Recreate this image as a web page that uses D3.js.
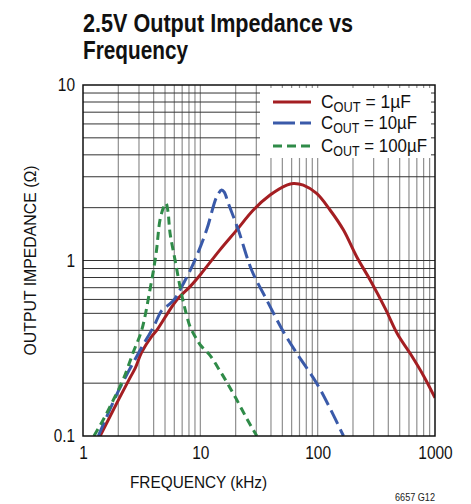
<!DOCTYPE html>
<html>
<head>
<meta charset="utf-8">
<script src="https://cdn.jsdelivr.net/npm/d3@7"></script>
<style>
  html, body { margin: 0; padding: 0; background: #fff; }
  svg { display: block; }
  text { font-family: "Liberation Sans", Arial, Helvetica, sans-serif; }
</style>
</head>
<body>
<script>
// Frequency (kHz) / impedance (ohm) pairs for each output capacitor
const cout1uF = [
  [1.4, 0.1], [2.0, 0.16], [2.52, 0.215], [2.8, 0.245], [3.16, 0.30], [3.85, 0.37],
  [4.25, 0.40], [6.29, 0.596], [8.17, 0.71], [10, 0.83], [14.7, 1.15], [20.4, 1.49],
  [28.3, 1.94], [39.3, 2.36], [54.5, 2.69], [62, 2.75], [75.5, 2.69], [98, 2.41],
  [127.5, 1.94], [166, 1.49], [215, 1.05], [280, 0.774], [376, 0.534], [480, 0.38],
  [613, 0.296], [800, 0.22], [1000, 0.165]
];
const cout10uF = [
  [1.35, 0.1], [2.0, 0.18], [3.0, 0.30], [4.0, 0.42], [4.7, 0.52], [5.4, 0.56],
  [6.0, 0.6], [6.71, 0.68], [8.72, 0.96], [11.3, 1.49], [13.8, 2.31], [15.2, 2.52],
  [16.0, 2.45], [17.3, 2.12], [21.1, 1.49], [27.4, 0.88], [36.8, 0.596], [51, 0.393],
  [66.3, 0.296], [98, 0.2], [130, 0.14], [166, 0.1]
];
const cout100uF = [
  [1.24, 0.1], [1.5, 0.125], [1.81, 0.16], [2.2, 0.21], [2.68, 0.30], [3.16, 0.40],
  [3.72, 0.68], [4.2, 1.1], [4.53, 1.7], [4.85, 2.0], [5.1, 2.12], [5.3, 1.9],
  [5.52, 1.43], [6.1, 1.0], [6.71, 0.71], [7.3, 0.55], [8.17, 0.42], [9.0, 0.37],
  [10, 0.33], [12, 0.29], [14.7, 0.235], [17, 0.2], [20, 0.165], [25, 0.125], [30.3, 0.1]
];

const seriesNames = ["1µF", "10µF", "100µF"];
const xTickValues = [1, 10, 100, 1000];
const xTickLabels = ["1", "10", "100", "1000"];
const yTickValues = [0.1, 1, 10];
const yTickLabels = ["0.1", "1", "10"];

const W = 471, H = 504;
const margin = { left: 83, top: 85, right: 36, bottom: 68 };
const pw = W - margin.left - margin.right;
const ph = H - margin.top - margin.bottom;

const svg = d3.select("body").append("svg").attr("width", W).attr("height", H);

// Condensed look: squeeze a text element to a given width
function squeeze(sel, width) {
  sel.attr("textLength", width).attr("lengthAdjust", "spacingAndGlyphs");
  return sel;
}

// Title (two lines)
squeeze(svg.append("text").attr("x", 83).attr("y", 31.5)
  .attr("font-size", 25.5).attr("font-weight", "bold").attr("fill", "#111")
  .text("2.5V Output Impedance vs"), 270);
squeeze(svg.append("text").attr("x", 83).attr("y", 59)
  .attr("font-size", 25.5).attr("font-weight", "bold").attr("fill", "#111")
  .text("Frequency"), 105);

const g = svg.append("g").attr("transform", `translate(${margin.left},${margin.top})`);

const x = d3.scaleLog().domain([1, 1000]).range([0, pw]);
const y = d3.scaleLog().domain([0.1, 10]).range([ph, 0]);

// Grid: every 1..9 multiple of each decade
const xGrid = [];
for (let d = 1; d < 1000; d *= 10) for (let m = 2; m <= 9; m++) xGrid.push(d * m);
xGrid.push(10, 100);
const yGrid = [];
for (let d = 0.1; d < 9; d *= 10) for (let m = 2; m <= 9; m++) yGrid.push(+(d * m).toPrecision(3));
yGrid.push(1);

g.append("g").selectAll("line").data(xGrid).join("line")
  .attr("x1", d => x(d)).attr("x2", d => x(d))
  .attr("y1", 0).attr("y2", ph)
  .attr("stroke", "#8f8f8f").attr("stroke-width", 1.2);

g.append("g").selectAll("line").data(yGrid).join("line")
  .attr("x1", 0).attr("x2", pw)
  .attr("y1", d => y(d)).attr("y2", d => y(d))
  .attr("stroke", "#333").attr("stroke-width", 1);

// Legend backdrop
g.append("rect").attr("x", 260 - margin.left).attr("y", 88 - margin.top)
  .attr("width", 171).attr("height", 70).attr("fill", "#fff");

// Curves
const colors = ["#a41e22", "#3a5aa9", "#2f8b48"];
const dashes = [null, "15,6", "8,5"];
const data = [cout1uF, cout10uF, cout100uF];

g.append("clipPath").attr("id", "plotClip")
  .append("rect").attr("width", pw).attr("height", ph);

const line = d3.line()
  .x(d => x(d[0])).y(d => y(d[1]))
  .curve(d3.curveCatmullRom.alpha(0.5));

g.append("g").attr("clip-path", "url(#plotClip)")
  .selectAll("path").data(data).join("path")
  .attr("d", d => line(d))
  .attr("fill", "none")
  .attr("stroke", (d, i) => colors[i])
  .attr("stroke-width", 3)
  .attr("stroke-dasharray", (d, i) => dashes[i])
  .attr("stroke-linejoin", "round");

// Frame
g.append("rect").attr("width", pw).attr("height", ph)
  .attr("fill", "none").attr("stroke", "#111").attr("stroke-width", 1.5);

// Tick labels
const digitW = 8.6;
const labelWidth = s => s.replace(/\./g, "").length * digitW + (s.includes(".") ? 4 : 0);

const xAxis = d3.axisBottom(x).tickValues(xTickValues)
  .tickFormat((d, i) => xTickLabels[i]).tickSize(0).tickPadding(10);
const xa = g.append("g").attr("transform", `translate(0,${ph})`).call(xAxis);
xa.select(".domain").remove();
xa.selectAll("text").attr("font-size", 18).attr("fill", "#111")
  .style("font-family", "'Liberation Sans', Arial, sans-serif")
  .each(function (d, i) { squeeze(d3.select(this), labelWidth(xTickLabels[i])); });

const yAxis = d3.axisLeft(y).tickValues(yTickValues)
  .tickFormat((d, i) => yTickLabels[i]).tickSize(0).tickPadding(8);
const ya = g.append("g").call(yAxis);
ya.select(".domain").remove();
ya.selectAll("text").attr("font-size", 18).attr("fill", "#111")
  .style("font-family", "'Liberation Sans', Arial, sans-serif")
  .each(function (d, i) { squeeze(d3.select(this), labelWidth(yTickLabels[i])); });

// Axis titles
squeeze(svg.append("text")
  .attr("x", 198.5).attr("y", 488)
  .attr("text-anchor", "middle").attr("font-size", 17).attr("fill", "#111")
  .text("FREQUENCY (kHz)"), 137);

squeeze(svg.append("text")
  .attr("transform", `translate(36,${margin.top + ph / 2}) rotate(-90)`)
  .attr("text-anchor", "middle").attr("font-size", 17).attr("fill", "#111")
  .text("OUTPUT IMPEDANCE (Ω)"), 190);

squeeze(svg.append("text")
  .attr("x", 395).attr("y", 501)
  .attr("font-size", 11).attr("fill", "#222")
  .text("6657 G12"), 40);

// Legend entries
const rowsY = [102, 123, 146];
const rowWidths = [90, 96, 106];
const lg = svg.append("g");
seriesNames.forEach((name, i) => {
  lg.append("line")
    .attr("x1", 273).attr("x2", 311)
    .attr("y1", rowsY[i]).attr("y2", rowsY[i])
    .attr("stroke", colors[i]).attr("stroke-width", 3)
    .attr("stroke-dasharray", i === 1 ? "22,5" : i === 2 ? "9,5" : null);
  const t = lg.append("text").attr("x", 321).attr("y", rowsY[i] + 6)
    .attr("font-size", 19).attr("fill", "#111");
  t.append("tspan").text("C");
  t.append("tspan").attr("font-size", 14).attr("dy", 4).text("OUT");
  t.append("tspan").attr("dy", -4).text(" = " + name);
  squeeze(t, rowWidths[i]);
});
</script>
</body>
</html>
